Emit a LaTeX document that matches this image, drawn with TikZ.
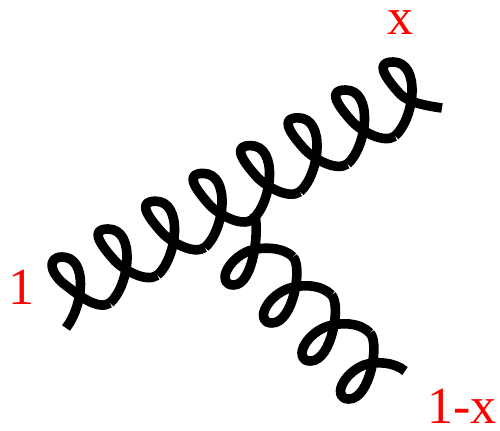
\documentclass[tikz,border=0pt]{standalone}
\usepackage{fontspec}
\setmainfont{Liberation Serif}
\tikzset{
  gluon/.style={line width=7.2pt,line cap=butt,line join=round,black},
  lbl/.style={text=red,inner sep=0pt,font=\fontsize{39}{41}\selectfont}
}
\begin{document}
\begin{tikzpicture}[x=0.75pt,y=-0.75pt]
\useasboundingbox (0,0) rectangle (500,431);
% upper gluon
\draw[gluon] (66,328) .. controls (84,305) and (88,257) .. (62,257)
  .. controls (47,257) and (49,274) .. (68,287)
  .. controls (77,294) and (98,311) .. (110,303);
\foreach \k in {0,...,5}{
  \begin{scope}[shift={({110+47.5*\k},{303-27.8*\k})}]
  \draw[gluon] (0,0) .. controls (20,-18) and (26,-74) .. (-2,-74)
    .. controls (-18,-74) and (-14,-63) .. (5,-42)
    .. controls (14,-33) and (36,-20) .. (47.5,-27.8);
  \end{scope}
}
\begin{scope}[shift={(395,136)}]
\draw[gluon] (0,0) .. controls (20,-18) and (26,-74) .. (-2,-74)
  .. controls (-18,-74) and (-14,-63) .. (5,-42)
  .. controls (14,-33) and (33,-30) .. (47,-28);
\end{scope}
% lower gluon
\draw[gluon] (254,213) .. controls (260,226) and (254,285) .. (233.7,285)
  .. controls (216.5,285) and (226.5,260) .. (248.5,251)
  .. controls (260,247) and (282,246) .. (293,257);
\foreach \k in {0,1}{
  \begin{scope}[shift={({293+38.5*\k},{257+38*\k})}]
  \draw[gluon] (0,0) .. controls (10,10) and (0,66) .. (-21,66)
    .. controls (-38,66) and (-28,41) .. (-6,32)
    .. controls (8,27) and (28,27) .. (38.5,38);
  \end{scope}
}
\begin{scope}[shift={(370,333)}]
\draw[gluon] (0,0) .. controls (10,10) and (0,66) .. (-21,66)
  .. controls (-38,66) and (-28,41) .. (-6,32)
  .. controls (6,28) and (24,29) .. (35,38);
\end{scope}
% labels
\node[lbl] (one) at (21,287) {1};
\node[lbl] (ex) at (400,23) {x};
\node[lbl] (onex) at (462,406) {1-x};
\end{tikzpicture}
\end{document}
